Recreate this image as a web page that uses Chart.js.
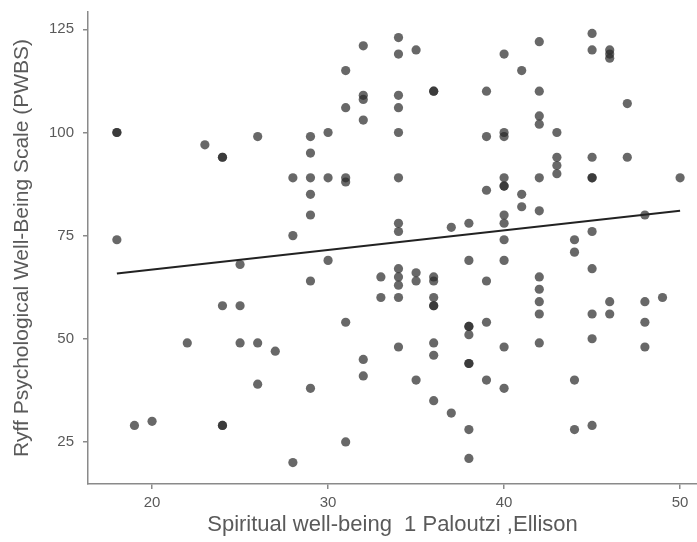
<!DOCTYPE html>
<html>
<head>
<meta charset="utf-8">
<script src="https://cdn.jsdelivr.net/npm/chart.js@4"></script>
<style>
  html, body { margin: 0; padding: 0; background: #fff; }
  #wrap { width: 697px; height: 542px; }
</style>
</head>
<body>
<div id="wrap"><canvas id="scatter-chart"></canvas></div>
<script>
// Spiritual well-being (x) and PWBS (y), one entry per respondent
const spiritual = [
  18, 18, 18, 19, 20, 22, 23,
  24, 24, 24, 24, 24,
  25, 25, 25, 26, 26, 26, 27,
  28, 28, 28,
  29, 29, 29, 29, 29, 29, 29,
  30, 30, 30,
  31, 31, 31, 31, 31, 31,
  32, 32, 32, 32, 32, 32,
  33, 33,
  34, 34, 34, 34, 34, 34, 34, 34, 34, 34, 34, 34, 34,
  35, 35, 35, 35,
  36, 36, 36, 36, 36, 36, 36, 36, 36, 36,
  37, 37,
  38, 38, 38, 38, 38, 38, 38, 38, 38,
  39, 39, 39, 39, 39, 39,
  40, 40, 40, 40, 40, 40, 40, 40, 40, 40, 40, 40,
  41, 41, 41,
  42, 42, 42, 42, 42, 42, 42, 42, 42, 42, 42,
  43, 43, 43, 43,
  44, 44, 44, 44,
  45, 45, 45, 45, 45, 45, 45, 45, 45, 45,
  46, 46, 46, 46, 46,
  47, 47,
  48, 48, 48, 48,
  49, 50
];
const pwbs = [
  100, 100, 74, 29, 30, 49, 97,
  94, 94, 58, 29, 29,
  68, 58, 49, 99, 49, 39, 47,
  89, 75, 20,
  99, 95, 89, 85, 80, 64, 38,
  100, 89, 69,
  115, 106, 89, 88, 54, 25,
  121, 109, 108, 103, 45, 41,
  65, 60,
  123, 119, 109, 106, 100, 89, 78, 76, 67, 65, 63, 60, 48,
  120, 66, 64, 40,
  110, 110, 65, 64, 60, 58, 58, 49, 46, 35,
  77, 32,
  78, 69, 53, 53, 51, 44, 44, 28, 21,
  110, 99, 86, 64, 54, 40,
  119, 100, 99, 89, 87, 87, 80, 78, 74, 69, 48, 38,
  115, 85, 82,
  122, 110, 104, 102, 89, 81, 65, 62, 59, 56, 49,
  100, 94, 92, 90,
  74, 71, 40, 28,
  124, 120, 94, 89, 89, 76, 67, 56, 50, 29,
  120, 119, 118, 59, 56,
  107, 94,
  80, 59, 54, 48,
  60, 89
];

const fitX = [18, 50];
const fitY = [65.8, 81.0];

const xTicks = [20, 30, 40, 50];
const yTicks = [25, 50, 75, 100, 125];

const points = spiritual.map((x, i) => ({ x: x, y: pwbs[i] }));
const fitLine = fitX.map((x, i) => ({ x: x, y: fitY[i] }));

const axisGray = "#8a8a8a";
const textGray = "#5a5a5a";

const ctx = document.getElementById("scatter-chart").getContext("2d");
new Chart(ctx, {
  type: "scatter",
  data: {
    datasets: [
      {
        data: points,
        backgroundColor: "rgba(40, 40, 40, 0.7)",
        borderWidth: 0,
        pointRadius: 4.6,
        pointHoverRadius: 4.6,
      },
      {
        type: "line",
        data: fitLine,
        borderColor: "#222",
        borderWidth: 2,
        pointRadius: 0,
        fill: false,
      },
    ],
  },
  options: {
    responsive: true,
    maintainAspectRatio: false,
    animation: false,
    layout: { autoPadding: false, padding: { top: 12, right: 0, left: 0, bottom: 0 } },
    plugins: {
      legend: { display: false },
      tooltip: { enabled: false },
    },
    scales: {
      x: {
        type: "linear",
        min: 16.36,
        max: 50.96,
        afterBuildTicks: (scale) => { scale.ticks = xTicks.map((v) => ({ value: v })); },
        afterFit: (scale) => {
          scale.height = 58;
          scale.paddingLeft = 0;
          scale.paddingRight = 0;
        },
        grid: { drawOnChartArea: false, drawTicks: true, tickLength: 5, color: axisGray, lineWidth: 1.5 },
        border: { display: true, color: axisGray, width: 1.5 },
        ticks: { color: textGray, font: { family: "Liberation Sans", size: 15 }, padding: 5 },
        title: {
          display: true,
          text: "Spiritual well-being  1 Paloutzi ,Ellison",
          color: textGray,
          font: { family: "Liberation Sans", size: 22 },
          padding: { top: 0, bottom: 4 },
        },
      },
      y: {
        type: "linear",
        min: 14.8,
        max: 129.2,
        afterBuildTicks: (scale) => { scale.ticks = yTicks.map((v) => ({ value: v })); },
        afterFit: (scale) => {
          scale.width = 88;
          scale.paddingTop = 0;
          scale.paddingBottom = 0;
        },
        grid: { drawOnChartArea: false, drawTicks: true, tickLength: 5, color: axisGray, lineWidth: 1.5 },
        border: { display: true, color: axisGray, width: 1.5 },
        ticks: { color: textGray, font: { family: "Liberation Sans", size: 15 }, padding: 9 },
        title: {
          display: true,
          text: "Ryff Psychological Well-Being Scale (PWBS)",
          color: textGray,
          font: { family: "Liberation Sans", size: 21 },
          padding: { top: 10, bottom: 0 },
        },
      },
    },
  },
});
</script>
</body>
</html>
